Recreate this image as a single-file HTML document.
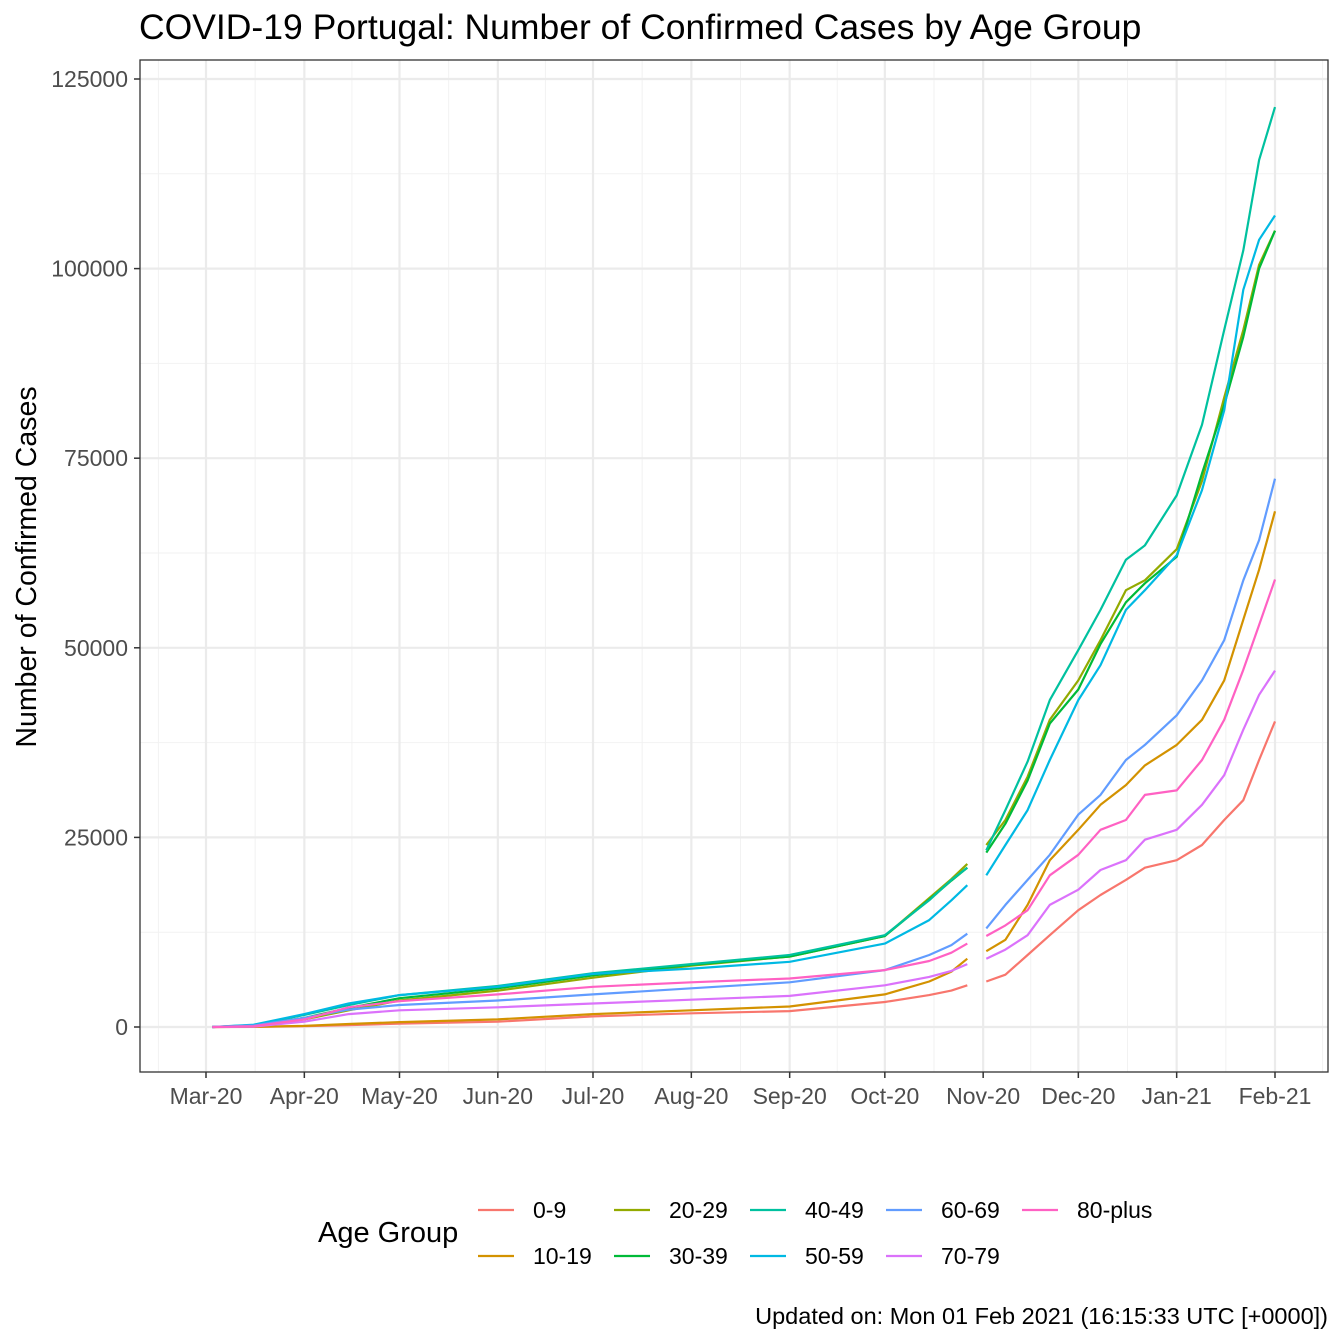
<!DOCTYPE html>
<html><head><meta charset="utf-8"><style>
body{margin:0;background:#fff;}
svg{display:block;font-family:"Liberation Sans",sans-serif;}
</style></head><body>
<svg id="chart" width="1344" height="1344"></svg>
<script>
const dates = [2,15,31,45,61,92,122,153,184,214,228,235,240,243,246,252,259,266,275,282,290,296,306,314,321,327,332,337];
const groups = ["0-9","10-19","20-29","30-39","40-49","50-59","60-69","70-79","80-plus"];
const colors = ["#F8766D","#D39200","#93AA00","#00BA38","#00C19F","#00B9E3","#619CFF","#DB72FB","#FF61C3"];
const s09   = [0,10,100,250,450,700,1400,1800,2100,3300,4200,4800,5500,null,6000,6900,9500,12100,15400,17400,19400,21000,22000,24000,27300,29900,35200,40300];
const s1019 = [0,20,150,400,650,1000,1700,2200,2700,4300,6000,7300,9000,null,10000,11500,16100,22000,26000,29300,31900,34500,37200,40500,45700,53700,60300,68000];
const s2029 = [0,150,1000,2200,3500,4800,6500,8100,9300,12000,17000,19500,21500,null,24000,27300,33000,40500,45700,51000,57600,58900,63000,72000,83000,91900,100500,105000];
const s3039 = [0,200,1200,2500,3800,5100,6800,8200,9300,12000,16800,19300,21000,null,23000,26800,32500,40000,44500,50500,56000,58500,62000,73000,82000,91000,100000,105000];
const s4049 = [0,250,1600,2900,4200,5400,7100,8300,9500,12100,16700,19400,21000,null,23300,28600,35000,43100,49700,55000,61600,63500,70100,79400,91900,102400,114300,121300];
const s5059 = [0,300,1700,3100,4200,5300,7000,7700,8600,11000,14100,16700,18700,null,20000,24000,28600,35200,43100,47700,55000,57600,62200,70800,81300,97200,103800,107000];
const s6069 = [0,200,1200,2300,2900,3500,4300,5100,5900,7500,9500,10800,12300,null,13000,16100,19400,22700,28000,30600,35200,37200,41100,45700,51000,58900,64200,72300];
const s7079 = [0,50,700,1700,2200,2600,3100,3600,4100,5500,6600,7400,8300,null,9000,10200,12100,16100,18100,20700,22000,24700,26000,29300,33200,39200,43800,47000];
const s80   = [0,100,1000,2600,3400,4300,5300,5900,6400,7500,8700,9800,11000,null,12000,13400,15400,20000,22700,26000,27300,30600,31200,35200,40500,47100,53000,59000];
const series = [s09,s1019,s2029,s3039,s4049,s5059,s6069,s7079,s80];
const yTicks = [0,25000,50000,75000,100000,125000];
const monthLabels = ["Mar-20","Apr-20","May-20","Jun-20","Jul-20","Aug-20","Sep-20","Oct-20","Nov-20","Dec-20","Jan-21","Feb-21"];
const monthDays = [0,31,61,92,122,153,184,214,245,275,306,337];

const NS="http://www.w3.org/2000/svg";
const svg=document.getElementById('chart');
const X=d=>206+d*(1069/337);
const Y=v=>1027-v*(948/125000);
function el(t,a,p){const e=document.createElementNS(NS,t);for(const k in a)e.setAttribute(k,a[k]);(p||svg).appendChild(e);return e;}
const L=140,R=1328,T=60,B=1072;
el('rect',{x:L,y:T,width:R-L,height:B-T,fill:'#fff'});
const grid=el('g',{});


for(let i=0;i<yTicks.length-1;i++){const v=(yTicks[i]+yTicks[i+1])/2;el('line',{x1:L,x2:R,y1:Y(v),y2:Y(v),stroke:'#f2f2f2','stroke-width':1},grid);}
for(let i=0;i<monthDays.length-1;i++){const d=(monthDays[i]+monthDays[i+1])/2;el('line',{x1:X(d),x2:X(d),y1:T,y2:B,stroke:'#f2f2f2'},grid);}
el('line',{x1:X(-15),x2:X(-15),y1:T,y2:B,stroke:'#f2f2f2'},grid);
el('line',{x1:X(352),x2:X(352),y1:T,y2:B,stroke:'#f2f2f2'},grid);
yTicks.forEach(v=>{el('line',{x1:L,x2:R,y1:Y(v),y2:Y(v),stroke:'#ebebeb','stroke-width':2.2},grid);
 const t=el('text',{x:L-12,y:Y(v)+8,'text-anchor':'end','font-size':23,fill:'#4d4d4d'});t.textContent=v;
 
 el('line',{x1:L-6,x2:L,y1:Y(v),y2:Y(v),stroke:'#333','stroke-width':1.5});});
monthDays.forEach((d,i)=>{el('line',{x1:X(d),x2:X(d),y1:T,y2:B,stroke:'#ebebeb','stroke-width':2.2},grid);
 el('line',{x1:X(d),x2:X(d),y1:B,y2:B+6,stroke:'#333','stroke-width':1.5});
 const t=el('text',{x:X(d),y:B+32,'text-anchor':'middle','font-size':23,fill:'#4d4d4d'});t.textContent=monthLabels[i];
 });
series.forEach((s,k)=>{let segs=[],cur=[];
 s.forEach((v,i)=>{if(v===null){if(cur.length)segs.push(cur);cur=[];}else cur.push(X(dates[i]).toFixed(1)+','+Y(v).toFixed(1));});
 if(cur.length)segs.push(cur);
 segs.forEach(sg=>{const p=el('polyline',{points:sg.join(' '),fill:'none',stroke:colors[k],'stroke-width':2.2,'stroke-linejoin':'round'});
 
 });});
el('rect',{x:L,y:T,width:R-L,height:B-T,fill:'none',stroke:'#333','stroke-width':1.3});
const title=el('text',{x:139,y:39,'font-size':35.5,fill:'#000'});title.textContent='COVID-19 Portugal: Number of Confirmed Cases by Age Group';

const yt=el('text',{x:0,y:0,transform:'translate(36,567) rotate(-90)','text-anchor':'middle','font-size':28.5,fill:'#000'});yt.textContent='Number of Confirmed Cases';

const lt=el('text',{x:318,y:1242,'font-size':29,fill:'#000'});lt.textContent='Age Group';

groups.forEach((g,k)=>{const col=Math.floor(k/2),row=k%2;const x=478+col*136,y=1210+row*46;
 const gg=el('g',{});
 
 
 el('line',{x1:x,x2:x+36,y1:y,y2:y,stroke:colors[k],'stroke-width':2.2},gg);
 const t=el('text',{x:x+55,y:y+8,'font-size':23,fill:'#000'},gg);t.textContent=g;});
const cap=el('text',{x:1328,y:1324,'text-anchor':'end','font-size':23.5,fill:'#000'});cap.textContent='Updated on: Mon 01 Feb 2021 (16:15:33 UTC [+0000])';

</script>
</body></html>
